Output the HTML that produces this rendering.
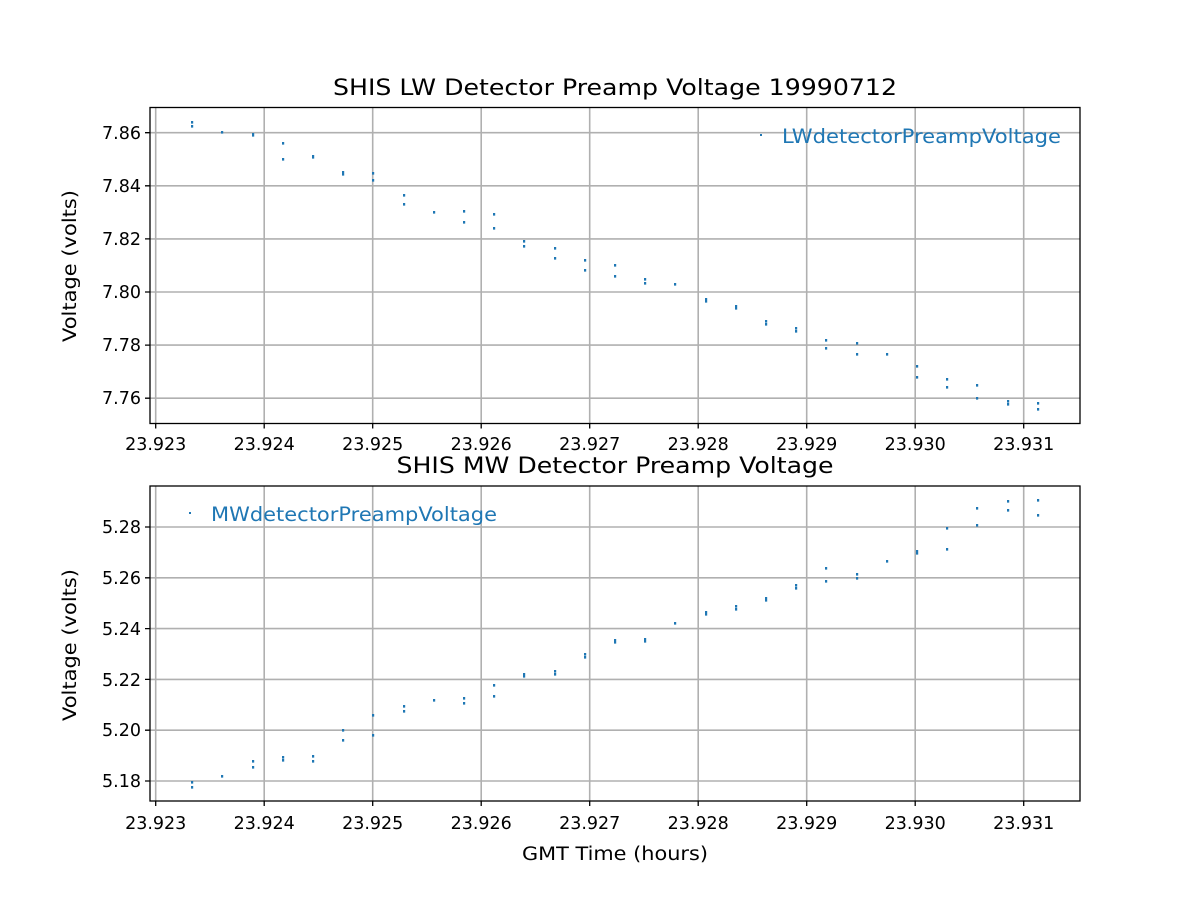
<!DOCTYPE html>
<html><head><meta charset="utf-8"><style>body{margin:0;background:#fff}svg{display:block}</style></head><body>
<svg width="1200" height="900" xmlns="http://www.w3.org/2000/svg" font-family="DejaVu Sans, Liberation Sans, sans-serif">
<rect width="1200" height="900" fill="#fff"/>
<g stroke="#b0b0b0" stroke-width="1.6">
<path d="M155.7 107.5V423.5M264.2 107.5V423.5M372.7 107.5V423.5M481.2 107.5V423.5M589.7 107.5V423.5M698.2 107.5V423.5M806.7 107.5V423.5M915.2 107.5V423.5M1023.7 107.5V423.5"/>
<path d="M155.7 486V801M264.2 486V801M372.7 486V801M481.2 486V801M589.7 486V801M698.2 486V801M806.7 486V801M915.2 486V801M1023.7 486V801"/>
<path d="M150 132.7H1080M150 185.8H1080M150 238.9H1080M150 292H1080M150 345.1H1080M150 398.2H1080"/>
<path d="M150 527H1080M150 577.8H1080M150 628.6H1080M150 679.4H1080M150 730.2H1080M150 781H1080"/>
</g>
<path fill="#1f77b4" d="
M191 121h2.2v2.6h-2.2zM191 125h2.2v2.6h-2.2zM221 131h2.2v2.6h-2.2zM252 133h2.2v2.6h-2.2zM252 134h2.2v2.6h-2.2zM282 142h2.2v2.6h-2.2zM282 158h2.2v2.6h-2.2zM312 155h2.2v2.6h-2.2zM312 156h2.2v2.6h-2.2zM342 171h2.2v2.6h-2.2zM342 173h2.2v2.6h-2.2zM372 172h2.2v2.6h-2.2zM372 179h2.2v2.6h-2.2zM403 194h2.2v2.6h-2.2zM403 203h2.2v2.6h-2.2zM433 211h2.2v2.6h-2.2zM463 210h2.2v2.6h-2.2zM463 221h2.2v2.6h-2.2zM493 213h2.2v2.6h-2.2zM493 227h2.2v2.6h-2.2zM523 240h2.2v2.6h-2.2zM523 245h2.2v2.6h-2.2zM554 247h2.2v2.6h-2.2zM554 257h2.2v2.6h-2.2zM584 259h2.2v2.6h-2.2zM584 269h2.2v2.6h-2.2zM614 264h2.2v2.6h-2.2zM614 275h2.2v2.6h-2.2zM644 278h2.2v2.6h-2.2zM644 282h2.2v2.6h-2.2zM674 283h2.2v2.6h-2.2zM705 298h2.2v2.6h-2.2zM705 300h2.2v2.6h-2.2zM735 305h2.2v2.6h-2.2zM735 307h2.2v2.6h-2.2zM765 320h2.2v2.6h-2.2zM765 323h2.2v2.6h-2.2zM795 327h2.2v2.6h-2.2zM795 330h2.2v2.6h-2.2zM825 339h2.2v2.6h-2.2zM825 347h2.2v2.6h-2.2zM856 342h2.2v2.6h-2.2zM856 353h2.2v2.6h-2.2zM886 353h2.2v2.6h-2.2zM916 365h2.2v2.6h-2.2zM916 376h2.2v2.6h-2.2zM946 378h2.2v2.6h-2.2zM946 386h2.2v2.6h-2.2zM976 384h2.2v2.6h-2.2zM976 397h2.2v2.6h-2.2zM1007 400h2.2v2.6h-2.2zM1007 403h2.2v2.6h-2.2zM1037 402h2.2v2.6h-2.2zM1037 408h2.2v2.6h-2.2z
M191 781h2.2v2.6h-2.2zM191 786h2.2v2.6h-2.2zM221 775h2.2v2.6h-2.2zM252 760h2.2v2.6h-2.2zM252 766h2.2v2.6h-2.2zM282 756h2.2v2.6h-2.2zM282 759h2.2v2.6h-2.2zM312 755h2.2v2.6h-2.2zM312 760h2.2v2.6h-2.2zM342 729h2.2v2.6h-2.2zM342 739h2.2v2.6h-2.2zM372 714h2.2v2.6h-2.2zM372 734h2.2v2.6h-2.2zM403 705h2.2v2.6h-2.2zM403 710h2.2v2.6h-2.2zM433 699h2.2v2.6h-2.2zM463 697h2.2v2.6h-2.2zM463 702h2.2v2.6h-2.2zM493 684h2.2v2.6h-2.2zM493 695h2.2v2.6h-2.2zM523 673h2.2v2.6h-2.2zM523 675h2.2v2.6h-2.2zM554 670h2.2v2.6h-2.2zM554 673h2.2v2.6h-2.2zM584 653h2.2v2.6h-2.2zM584 656h2.2v2.6h-2.2zM614 639h2.2v2.6h-2.2zM614 641h2.2v2.6h-2.2zM644 638h2.2v2.6h-2.2zM644 640h2.2v2.6h-2.2zM674 622h2.2v2.6h-2.2zM705 611h2.2v2.6h-2.2zM705 613h2.2v2.6h-2.2zM735 605h2.2v2.6h-2.2zM735 608h2.2v2.6h-2.2zM765 597h2.2v2.6h-2.2zM765 599h2.2v2.6h-2.2zM795 584h2.2v2.6h-2.2zM795 587h2.2v2.6h-2.2zM825 567h2.2v2.6h-2.2zM825 580h2.2v2.6h-2.2zM856 573h2.2v2.6h-2.2zM856 577h2.2v2.6h-2.2zM886 560h2.2v2.6h-2.2zM916 550h2.2v2.6h-2.2zM916 552h2.2v2.6h-2.2zM946 527h2.2v2.6h-2.2zM946 548h2.2v2.6h-2.2zM976 507h2.2v2.6h-2.2zM976 524h2.2v2.6h-2.2zM1007 500h2.2v2.6h-2.2zM1007 509h2.2v2.6h-2.2zM1037 499h2.2v2.6h-2.2zM1037 514h2.2v2.6h-2.2z"/>
<g fill="none" stroke="#000" stroke-width="1.3">
<rect x="150" y="107.5" width="930" height="316"/>
<rect x="150" y="486" width="930" height="315"/>
<path d="M155.7 423.5v5M264.2 423.5v5M372.7 423.5v5M481.2 423.5v5M589.7 423.5v5M698.2 423.5v5M806.7 423.5v5M915.2 423.5v5M1023.7 423.5v5"/>
<path d="M155.7 801v5M264.2 801v5M372.7 801v5M481.2 801v5M589.7 801v5M698.2 801v5M806.7 801v5M915.2 801v5M1023.7 801v5"/>
<path d="M145 132.7h5M145 185.8h5M145 238.9h5M145 292h5M145 345.1h5M145 398.2h5M145 527h5M145 577.8h5M145 628.6h5M145 679.4h5M145 730.2h5M145 781h5"/>
</g>
<g font-size="17.5" fill="#000" text-anchor="middle">
<text x="155.7" y="450">23.923</text><text x="264.2" y="450">23.924</text><text x="372.7" y="450">23.925</text><text x="481.2" y="450">23.926</text><text x="589.7" y="450">23.927</text><text x="698.2" y="450">23.928</text><text x="806.7" y="450">23.929</text><text x="915.2" y="450">23.930</text><text x="1023.7" y="450">23.931</text>
<text x="155.7" y="829">23.923</text><text x="264.2" y="829">23.924</text><text x="372.7" y="829">23.925</text><text x="481.2" y="829">23.926</text><text x="589.7" y="829">23.927</text><text x="698.2" y="829">23.928</text><text x="806.7" y="829">23.929</text><text x="915.2" y="829">23.930</text><text x="1023.7" y="829">23.931</text>
</g>
<g font-size="17.5" fill="#000" text-anchor="end">
<text x="141" y="139">7.86</text><text x="141" y="192">7.84</text><text x="141" y="245">7.82</text><text x="141" y="298">7.80</text><text x="141" y="351">7.78</text><text x="141" y="404">7.76</text>
<text x="141" y="533">5.28</text><text x="141" y="584">5.26</text><text x="141" y="635">5.24</text><text x="141" y="686">5.22</text><text x="141" y="736">5.20</text><text x="141" y="787">5.18</text>
</g>
<text x="615" y="95" font-size="22.5" text-anchor="middle" textLength="564" lengthAdjust="spacingAndGlyphs">SHIS LW Detector Preamp Voltage 19990712</text>
<text x="615" y="473" font-size="22.5" text-anchor="middle" textLength="437" lengthAdjust="spacingAndGlyphs">SHIS MW Detector Preamp Voltage</text>
<text x="615" y="860" font-size="18.5" text-anchor="middle" textLength="186" lengthAdjust="spacingAndGlyphs">GMT Time (hours)</text>
<text transform="translate(76,266) rotate(-90)" font-size="18.5" text-anchor="middle" textLength="152" lengthAdjust="spacingAndGlyphs">Voltage (volts)</text>
<text transform="translate(76,645) rotate(-90)" font-size="18.5" text-anchor="middle" textLength="152" lengthAdjust="spacingAndGlyphs">Voltage (volts)</text>
<rect x="760" y="134" width="2" height="2" fill="#1f77b4"/>
<text x="782" y="143" font-size="19.5" fill="#1f77b4" textLength="279" lengthAdjust="spacingAndGlyphs">LWdetectorPreampVoltage</text>
<rect x="189" y="512" width="2" height="2" fill="#1f77b4"/>
<text x="211" y="521" font-size="19.5" fill="#1f77b4" textLength="286" lengthAdjust="spacingAndGlyphs">MWdetectorPreampVoltage</text>
</svg>
</body></html>
